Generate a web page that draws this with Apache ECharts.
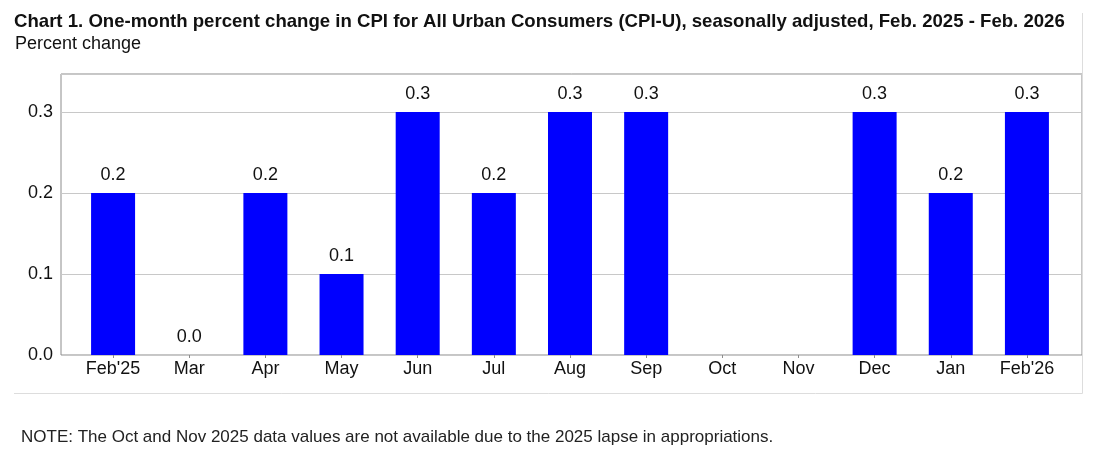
<!DOCTYPE html>
<html>
<head>
<meta charset="utf-8">
<script src="https://cdn.jsdelivr.net/npm/echarts@6/dist/echarts.min.js"></script>
<style>
html,body{margin:0;padding:0;background:#fff;}
#c{width:1117px;height:461px;}
</style>
</head>
<body>
<div id="c"></div>
<script>
const categories = ["Feb'25","Mar","Apr","May","Jun","Jul","Aug","Sep","Oct","Nov","Dec","Jan","Feb'26"];
const values = [0.2, 0.0, 0.2, 0.1, 0.3, 0.2, 0.3, 0.3, null, null, 0.3, 0.2, 0.3];
const yTicks = [0.0, 0.1, 0.2, 0.3];
const titleText = "Chart 1. One-month percent change in CPI for All Urban Consumers (CPI-U), seasonally adjusted, Feb. 2025 - Feb. 2026";
const subtitleText = "Percent change";
const noteText = "NOTE: The Oct and Nov 2025 data values are not available due to the 2025 lapse in appropriations.";

const chart = echarts.init(document.getElementById('c'), null, {renderer: 'canvas'});
const FONT = 'Liberation Sans, Arial, sans-serif';
const yMax = 0.347;
const option = {
  animation: false,
  textStyle: {fontFamily: FONT},
  title: [
    {text: titleText, left: 14, top: 12, padding: 0, textStyle: {fontFamily: FONT, fontWeight: 'bold', fontSize: 18.6, color: '#111'}},
    {text: subtitleText, left: 15, top: 35, padding: 0, textStyle: {fontFamily: FONT, fontWeight: 'normal', fontSize: 18, color: '#111'}},
    {text: noteText, left: 21, top: 429, padding: 0, textStyle: {fontFamily: FONT, fontWeight: 'normal', fontSize: 17, color: '#222'}}
  ],
  graphic: [
    {type: 'line', shape: {x1: 1082.5, y1: 13, x2: 1082.5, y2: 393.5}, style: {stroke: '#dddddd', lineWidth: 1}, silent: true},
    {type: 'line', shape: {x1: 14, y1: 393.5, x2: 1082.5, y2: 393.5}, style: {stroke: '#dddddd', lineWidth: 1}, silent: true}
  ],
  grid: [
    {left: 61, right: 35, top: 74, bottom: 106, show: true, borderColor: '#8c8c8c', borderWidth: 1, backgroundColor: 'transparent'},
    {left: 75, right: 52, top: 74, bottom: 106}
  ],
  xAxis: [
    {type: 'value', gridIndex: 0, min: 0, max: 1, show: false},
    {type: 'category', gridIndex: 1, data: categories,
      axisLine: {show: false},
      axisTick: {show: true, alignWithLabel: true, length: 3, lineStyle: {color: '#8c8c8c'}},
      axisLabel: {color: '#111', fontSize: 18, fontFamily: FONT, margin: 5, interval: 0}}
  ],
  yAxis: [
    {type: 'value', gridIndex: 0, min: 0, max: yMax, interval: 0.1,
      axisLine: {show: false}, axisTick: {show: false},
      splitLine: {show: true, lineStyle: {color: '#c8c8c8', width: 1}},
      axisLabel: {color: '#111', fontSize: 18, fontFamily: FONT, margin: 8,
        formatter: function(v){ return yTicks.some(t => Math.abs(t - v) < 1e-9) ? v.toFixed(1) : ''; }}},
    {type: 'value', gridIndex: 1, min: 0, max: yMax, show: false, splitLine: {show: false}}
  ],
  series: [{
    type: 'bar', xAxisIndex: 1, yAxisIndex: 1, data: values, barWidth: 44,
    itemStyle: {color: '#0000ff'},
    label: {show: true, position: 'top', distance: 9, color: '#111', fontSize: 18, fontFamily: FONT,
      formatter: function(p){ return p.value == null ? '' : Number(p.value).toFixed(1); }}
  }]
};
chart.setOption(option);
</script>
</body>
</html>
